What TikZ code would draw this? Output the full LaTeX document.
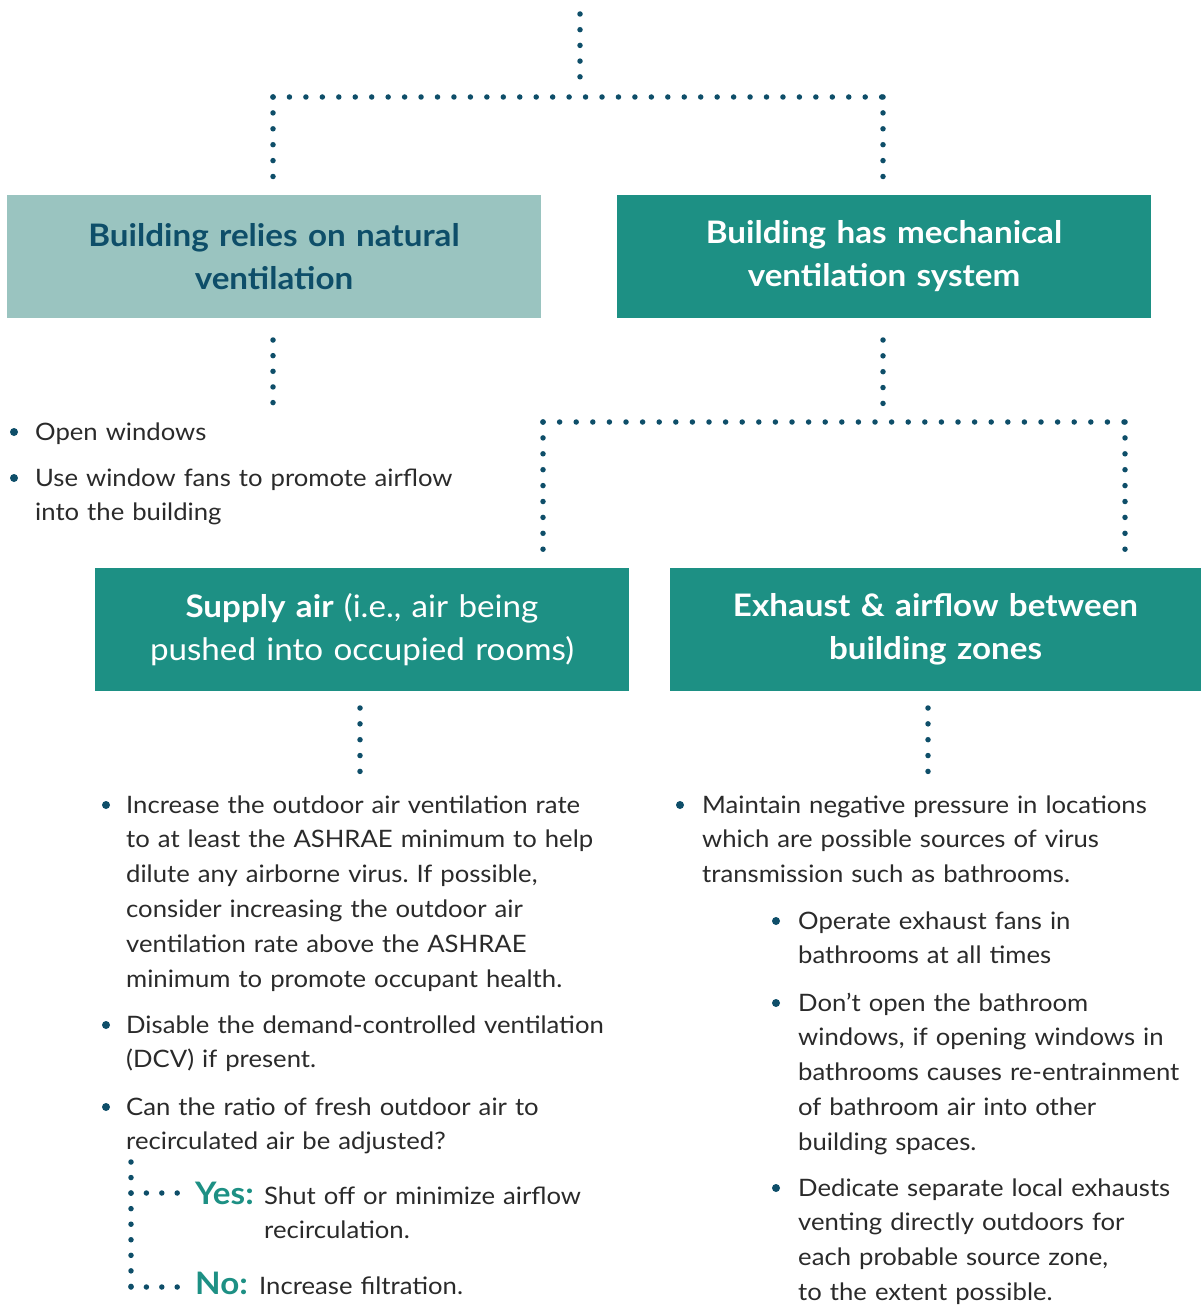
\documentclass[tikz,border=0pt]{standalone}
\usepackage{fontspec}
\setmainfont[FakeStretch=1.07]{Lato}
\definecolor{dotc}{HTML}{0E4E69}
\definecolor{lightbox}{HTML}{9AC4C0}
\definecolor{darkbox}{HTML}{1D9084}
\definecolor{bodytext}{HTML}{2A2A2A}
\definecolor{yesno}{HTML}{1D9084}
\frenchspacing
\begin{document}
\begin{tikzpicture}[x=1pt,y=-1pt,
  dotline/.style={draw=dotc, line width=5.5pt, line cap=round, dash pattern=on 0pt off 15.9pt},
  boxbase/.style={rectangle, inner sep=0pt, outer sep=0pt, minimum width=534pt, minimum height=123pt, text width=520pt, align=center},
  boxfont/.style={font=\fontsize{31}{43}\selectfont\bfseries},
  lightnode/.style={boxbase, boxfont, fill=lightbox, text=dotc},
  darknode/.style={boxbase, boxfont, fill=darkbox, text=white},
  item/.style={anchor=base west, inner sep=0pt, text width=560pt, align=left, text=bodytext, font=\fontsize{24}{34.8}\selectfont},
  answer/.style={anchor=base west, inner sep=0pt, text=yesno, font=\fontsize{31}{31}\selectfont\bfseries},
  bul/.style={fill=dotc},
]
\useasboundingbox (0,0) rectangle (1201,1311);

% boxes
\node[lightnode] (b1) at (274,256.5) {Building relies on natural\\ventilation};
\node[darknode] (b2) at (884,256.5) {Building has mechanical\\ventilation system};
\node[darknode, font=\fontsize{31}{43}\selectfont] (b3) at (362,629.5) {\textbf{Supply air} (i.e., air being\\pushed into occupied rooms)};
\node[darknode, minimum width=531pt] (b4) at (935.5,629.5) {Exhaust \& airflow between\\building zones};

% coordinates
\coordinate (top) at (580,14);
\coordinate (j1) at (580,97);
\coordinate (jl) at (273,97);
\coordinate (jr) at (883,97);
\coordinate (n1) at (273,403);
\coordinate (j2) at (883,422);
\coordinate (j3) at (543,422);
\coordinate (j4) at (1125,422);
\coordinate (n3) at (360,772);
\coordinate (n4) at (928,772);
\coordinate (yn) at (131,1162);
\coordinate (ycor) at (131,1193);
\coordinate (ncor) at (131,1287);

% connectors
\draw[dotline, dash pattern=on 0pt off 15.7pt, shorten >=18pt] (top) -- (j1);
\draw[dotline, dash pattern=on 0pt off 16.45pt] (jl) -- (jr);
\draw[dotline, dash pattern=on 0pt off 15.9pt, shorten >=17pt] (jl) -- (jl |- b1.north);
\draw[dotline, dash pattern=on 0pt off 15.9pt, shorten >=17pt] (jr) -- (jr |- b2.north);
\draw[dotline, dash pattern=on 0pt off 15.65pt, shorten <=22pt] (jl |- b1.south) -- (n1);
\draw[dotline, dash pattern=on 0pt off 15.85pt, shorten <=22pt, shorten >=18pt] (jr |- b2.south) -- (j2);
\draw[dotline, dash pattern=on 0pt off 16.6pt] (j3) -- (j4);
\draw[dotline, dash pattern=on 0pt off 15.9pt, shorten >=18pt] (j3) -- (j3 |- b3.north);
\draw[dotline, dash pattern=on 0pt off 15.9pt, shorten >=18pt] (j4) -- (j4 |- b4.north);
\draw[dotline, dash pattern=on 0pt off 15.85pt, shorten <=17pt] (n3 |- b3.south) -- (n3);
\draw[dotline, dash pattern=on 0pt off 15.85pt, shorten <=17pt] (n4 |- b4.south) -- (n4);

% left list
\fill[bul] (14,432) circle (4pt);
\node[item] (l1) at (35,440) {Open windows};
\fill[bul] (14,478) circle (4pt);
\node[item] (l2) at (35,486) {Use window fans to promote airflow\\into the building};

% supply list
\fill[bul] (106,805) circle (4pt);
\node[item] (s1) at (126,813) {Increase the outdoor air ventilation rate\\to at least the ASHRAE minimum to help\\dilute any airborne virus. If possible,\\consider increasing the outdoor air\\ventilation rate above the ASHRAE\\minimum to promote occupant health.};
\fill[bul] (106,1025) circle (4pt);
\node[item] (s2) at (126,1033) {Disable the demand-controlled ventilation\\(DCV) if present.};
\fill[bul] (106,1107) circle (4pt);
\node[item] (s3) at (126,1115) {Can the ratio of fresh outdoor air to\\recirculated air be adjusted?};

% yes / no
\node[answer] (yes) at (195,1204) {Yes:};
\node[item, text width=330pt] (yest) at (264,1204) {Shut off or minimize airflow\\recirculation.};
\node[answer] (no) at (195,1294) {No:};
\node[item, text width=330pt] (not) at (259,1294) {Increase filtration.};
\draw[dotline, dash pattern=on 0pt off 15.55pt] (yn) -- (ncor);
\draw[dotline, dash pattern=on 0pt off 15.4pt, shorten >=17pt] (ycor) -- (ycor -| yes.west);
\draw[dotline, dash pattern=on 0pt off 15.4pt, shorten >=17pt] (ncor) -- (ncor -| no.west);

% exhaust list
\fill[bul] (680,805) circle (4pt);
\node[item] (e1) at (702,813) {Maintain negative pressure in locations\\which are possible sources of virus\\transmission such as bathrooms.};
\fill[bul] (776,921) circle (4pt);
\node[item, text width=400pt] (e2) at (798,929) {Operate exhaust fans in\\bathrooms at all times};
\fill[bul] (776,1003) circle (4pt);
\node[item, text width=400pt] (e3) at (798,1011) {Don’t open the bathroom\\windows, if opening windows in\\bathrooms causes re-entrainment\\of bathroom air into other\\building spaces.};
\fill[bul] (776,1188) circle (4pt);
\node[item, text width=400pt] (e4) at (798,1196) {Dedicate separate local exhausts\\venting directly outdoors for\\each probable source zone,\\to the extent possible.};
\end{tikzpicture}
\end{document}
